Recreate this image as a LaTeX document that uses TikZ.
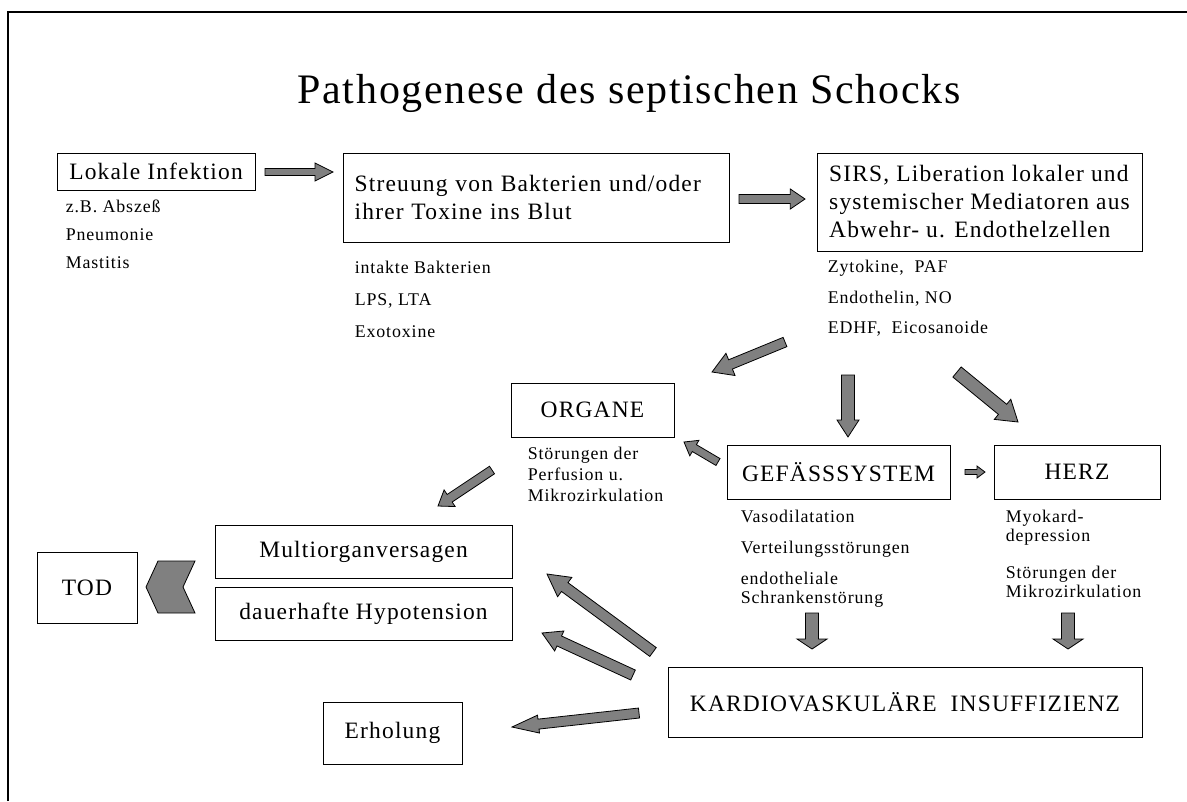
\documentclass[tikz,border=0pt]{standalone}
\usepackage{fontspec}
\setmainfont{Liberation Serif}[LetterSpace=5]
\newfontfamily\ttlfamily{Liberation Serif}[LetterSpace=4]
\usetikzlibrary{positioning, calc}

\definecolor{arrowgray}{RGB}{128,128,128}
\newcommand{\ttlfont}{\ttlfamily\fontsize{31.5pt}{36pt}\selectfont}
\newcommand{\boxfont}{\fontsize{17.6pt}{21pt}\selectfont}
\newcommand{\notefont}{\fontsize{13.4pt}{14.25pt}\selectfont}

% block arrow: tail, tip, half shaft, half head, head length
\newcommand{\fatarrow}[5]{%
  \coordinate (fa-b) at ($(#2)!#5!(#1)$);
  \filldraw[fatarrow] ($(#1)!#3!90:(#2)$) -- ($(fa-b)!#3!90:(#2)$) -- ($(fa-b)!#4!90:(#2)$)
    -- (#2) -- ($(fa-b)!#4!-90:(#2)$) -- ($(fa-b)!#3!-90:(#2)$) -- ($(#1)!#3!-90:(#2)$) -- cycle;
}

\begin{document}
\begin{tikzpicture}[
    x=0.75pt, y=-0.75pt,
    box/.style={rectangle, draw=black, line width=0.75pt, font=\boxfont, align=center, inner sep=0pt},
    note/.style={font=\notefont, align=left, inner sep=0pt},
    fatarrow/.style={fill=arrowgray, draw=black, line width=0.6pt, line join=miter},
]
\useasboundingbox (0,0) rectangle (1187,801);

% ── Frame and title ──
\draw[line width=1.5pt] (8,801) -- (8,12) -- (1187,12);
\node[font=\ttlfont, anchor=base] (title) at (629,103) {Pathogenese des septischen Schocks};

% ── Row 1: infection and mediators ──
\node[box, minimum width=148.5pt, minimum height=27.75pt] (lokal) at (156,171.5) {Lokale Infektion};
\node[box, minimum width=289.5pt, minimum height=66.75pt, text width=272pt, align=left] (streu) at (536,197.5)
    {Streuung von Bakterien und/oder\\ihrer Toxine ins Blut};
\node[box, minimum width=243.75pt, minimum height=73.5pt, align=left] (sirs) at (979.5,202)
    {SIRS, Liberation lokaler und\\systemischer Mediatoren aus\\Abwehr- u. Endothelzellen};

\node[note, below right=6.5pt and 6.75pt of lokal.south west] (lokalnotes)
    {z.B. Abszeß\\[6.75pt]Pneumonie\\[6.75pt]Mastitis};
\node[note, below right=13.8pt and 9pt of streu.south west] (streunotes)
    {intakte Bakterien\\[9.75pt]LPS, LTA\\[9.75pt]Exotoxine};
\node[note, below right=6.4pt and 8.25pt of sirs.south west] (sirsnotes)
    {Zytokine,\ \ PAF\\[8.6pt]Endothelin, NO\\[8.6pt]EDHF,\ \ Eicosanoide};

% ── Row 2: organs, vessels, heart ──
\node[box, minimum width=122.25pt, minimum height=40.5pt] (organe) at (592.5,410) {ORGANE};
\node[box, minimum width=167.25pt, minimum height=40.5pt] (gefaess) at (838.5,472) {GEFÄSSSYSTEM};
\node[box, minimum width=124.5pt, minimum height=40.5pt] (herz) at (1077,472) {HERZ};

\node[note, below right=7pt and 12.75pt of organe.south west] (organenotes)
    {Störungen der\\[1.5pt]Perfusion u.\\[1.5pt]Mikrozirkulation};
\node[note, below right=7.5pt and 10.5pt of gefaess.south west] (gefaessnotes)
    {Vasodilatation\\[9pt]Verteilungsstörungen\\[9pt]endotheliale\\Schrankenstörung};
\node[note, below right=7.5pt and 9pt of herz.south west] (herznotes)
    {Myokard-\\depression\\[13.5pt]Störungen der\\Mikrozirkulation};

% ── Row 3: outcomes ──
\node[box, minimum width=222.75pt, minimum height=39.75pt] (multi) at (363.5,551.5) {Multiorganversagen};
\node[box, minimum width=222.75pt, minimum height=39.75pt] (hypo) at (363.5,613.5) {dauerhafte Hypotension};
\node[box, minimum width=75pt, minimum height=53.25pt] (tod) at (87,587.5) {TOD};
\node[box, minimum width=104.25pt, minimum height=46.5pt] (erhol) at (392.5,733) {Erholung};
\node[box, minimum width=355.5pt, minimum height=52.5pt] (kardio) at (905,702) {KARDIOVASKULÄRE\ \ INSUFFIZIENZ};

% ── Chevron towards TOD ──
\filldraw[fatarrow] (195,561) -- (158,561) -- (146,587) -- (158,613) -- (195,613) -- (183,587) -- cycle;

% ── Arrow ends ──
\coordinate (a1s) at (265,172);  \coordinate (a1e) at (333,172);
\coordinate (a2s) at (739,199);  \coordinate (a2e) at (805,199);
\coordinate (a3s) at (785,342);  \coordinate (a3e) at (712,372);
\coordinate (a4s) at (848,375);  \coordinate (a4e) at (848,437);
\coordinate (a5s) at (957,372);  \coordinate (a5e) at (1018,422);
\coordinate (a6s) at (965,472);  \coordinate (a6e) at (985,472);
\coordinate (a7s) at (718,462);  \coordinate (a7e) at (684,442);
\coordinate (a8s) at (492,470);  \coordinate (a8e) at (438,506);
\coordinate (a9s) at (812,613);  \coordinate (a9e) at (812,649);
\coordinate (a10s) at (1068,613); \coordinate (a10e) at (1068,649);
\coordinate (a11s) at (653,652); \coordinate (a11e) at (547,574);
\coordinate (a12s) at (633,675); \coordinate (a12e) at (542,633);
\coordinate (a13s) at (639,713); \coordinate (a13e) at (512,727);

% ── Arrows ──
\fatarrow{a1s}{a1e}{2.6pt}{6.75pt}{13.5pt}
\fatarrow{a2s}{a2e}{3.4pt}{7.5pt}{11pt}
\fatarrow{a3s}{a3e}{3.75pt}{9pt}{15pt}
\fatarrow{a4s}{a4e}{4.9pt}{8.25pt}{12.75pt}
\fatarrow{a5s}{a5e}{4.9pt}{9.75pt}{15pt}
\fatarrow{a6s}{a6e}{1.9pt}{4.5pt}{6pt}
\fatarrow{a7s}{a7e}{3pt}{6.75pt}{9pt}
\fatarrow{a8s}{a8e}{3.4pt}{7.5pt}{10.5pt}
\fatarrow{a9s}{a9e}{4.9pt}{11.25pt}{7.5pt}
\fatarrow{a10s}{a10e}{4.9pt}{11.25pt}{7.5pt}
\fatarrow{a11s}{a11e}{4.1pt}{9pt}{16.5pt}
\fatarrow{a12s}{a12e}{4.1pt}{8.25pt}{14.25pt}
\fatarrow{a13s}{a13e}{3.75pt}{6.75pt}{20pt}

\end{tikzpicture}
\end{document}
